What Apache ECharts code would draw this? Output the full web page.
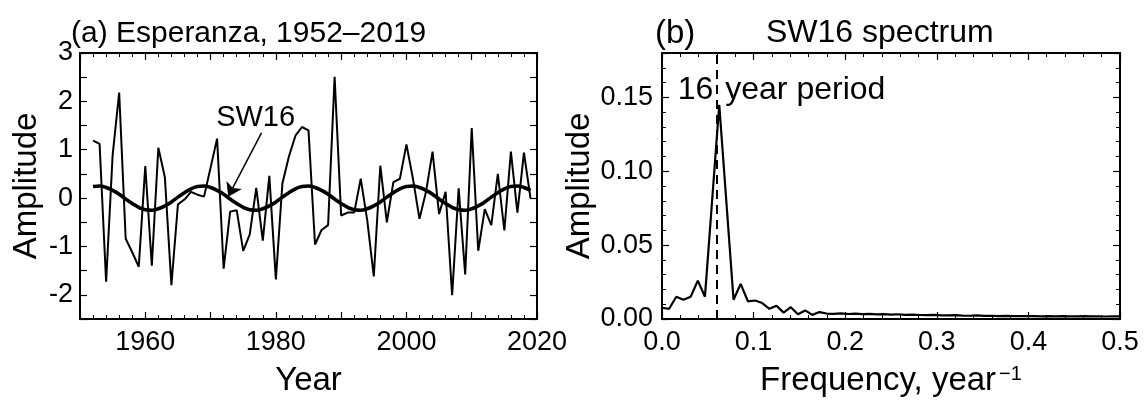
<!DOCTYPE html>
<html>
<head>
<meta charset="utf-8">
<script src="https://cdn.jsdelivr.net/npm/echarts@6/dist/echarts.min.js"></script>
<style>
html,body{margin:0;padding:0;background:#fff;}
#c{width:1146px;height:402px;}
</style>
</head>
<body>
<div id="c"></div>
<script>
// ---------- DATA ----------
const years = [1952,1953,1954,1955,1956,1957,1958,1959,1960,1961,1962,1963,1964,1965,1966,1967,1968,1969,1970,1971,1972,1973,1974,1975,1976,1977,1978,1979,1980,1981,1982,1983,1984,1985,1986,1987,1988,1989,1990,1991,1992,1993,1994,1995,1996,1997,1998,1999,2000,2001,2002,2003,2004,2005,2006,2007,2008,2009,2010,2011,2012,2013,2014,2015,2016,2017,2018,2019];
const anomaly = [1.19,1.12,-1.73,0.89,2.18,-0.84,-1.12,-1.42,0.66,-1.40,1.04,0.43,-1.80,-0.13,-0.03,0.13,0.07,0.03,0.63,1.23,-1.46,-0.28,-0.25,-1.09,-0.75,0.21,-0.88,0.46,-1.68,0.30,0.86,1.29,1.47,1.40,-0.96,-0.66,-0.56,2.51,-0.36,-0.30,-0.30,0.40,-0.46,-1.62,0.67,-0.50,0.33,0.40,1.11,0.40,-0.43,0.13,0.96,-0.33,0.13,-2.01,0.20,-1.58,1.45,-1.09,-0.23,-0.56,0.50,-0.67,0.96,-0.30,0.94,0.00];
const sw16 = [0.24,0.25,0.22,0.16,0.08,-0.02,-0.11,-0.19,-0.24,-0.25,-0.22,-0.16,-0.08,0.02,0.11,0.19,
              0.24,0.25,0.22,0.16,0.08,-0.02,-0.11,-0.19,-0.24,-0.25,-0.22,-0.16,-0.08,0.02,0.11,0.19,
              0.24,0.25,0.22,0.16,0.08,-0.02,-0.11,-0.19,-0.24,-0.25,-0.22,-0.16,-0.08,0.02,0.11,0.19,
              0.24,0.25,0.22,0.16,0.08,-0.02,-0.11,-0.19,-0.24,-0.25,-0.22,-0.16,-0.08,0.02,0.11,0.19,
              0.24,0.25,0.22,0.16];
const freqs = [0,0.0078,0.0156,0.0234,0.0313,0.0391,0.0469,0.0547,0.0625,0.0703,0.0781,0.0859,0.0938,0.1016,0.1094,0.1172,0.125,0.1328,0.1406,0.1484,0.1563,0.1641,0.1719,0.1797,0.1875,0.1953,0.2031,0.2109,0.2188,0.2266,0.2344,0.2422,0.25,0.2578,0.2656,0.2734,0.2813,0.2891,0.2969,0.3047,0.3125,0.3203,0.3281,0.3359,0.3438,0.3516,0.3594,0.3672,0.375,0.3828,0.3906,0.3984,0.4063,0.4141,0.4219,0.4297,0.4375,0.4453,0.4531,0.4609,0.4688,0.4766,0.4844,0.4922,0.5];
const spectrum = [0.0076,0.0069,0.0151,0.0130,0.0151,0.0260,0.0151,0.0800,0.1450,0.0790,0.0130,0.0238,0.0119,0.0125,0.0108,0.0069,0.0090,0.0043,0.0080,0.0032,0.0058,0.0028,0.0047,0.0037,0.0035,0.0038,0.0034,0.0036,0.0033,0.0035,0.0031,0.0033,0.0030,0.0032,0.0028,0.0030,0.0027,0.0026,0.0028,0.0025,0.0024,0.0026,0.0023,0.0022,0.0024,0.0021,0.0022,0.0020,0.0021,0.0019,0.0020,0.0019,0.0020,0.0018,0.0019,0.0018,0.0019,0.0018,0.0018,0.0019,0.0018,0.0018,0.0017,0.0018,0.0018];
const periodFreq = 0.0625;
const titleA = '(a) Esperanza, 1952\u20132019';
const titleB1 = '(b)';
const titleB2 = 'SW16 spectrum';
const sw16Label = 'SW16';
const sw16LabelAt = [1976.9, 1.65];
const sw16ArrowFrom = [1977.8, 1.35];
const sw16ArrowTo = [1972.7, 0.03];
const periodLabelAt = [0.0625, 0.155];

// ---------- CHART ----------
const FONT = '"Liberation Sans", Arial, Helvetica, sans-serif';
const chart = echarts.init(document.getElementById('c'));
const black = '#000';

function axisCommon(extra){
  return Object.assign({
    type:'value',
    axisLine:{show:true, onZero:false, lineStyle:{color:black, width:2}},
    splitLine:{show:false},
    axisTick:{show:true, inside:true, length:7, lineStyle:{color:black, width:1.2}},
    axisLabel:{color:black, fontSize:27, fontFamily:FONT},
    nameTextStyle:{color:black, fontSize:33, fontFamily:FONT}
  }, extra);
}
const minorT = {show:true, splitNumber:5, length:4, lineStyle:{color:black, width:1}};

const option = {
  animation:false,
  backgroundColor:'#fff',
  textStyle:{fontFamily:FONT},
  title:[
    {text:titleA, left:66, top:14, textStyle:{fontSize:30, fontWeight:'normal', color:black, fontFamily:FONT}},
    {text:titleB1, left:650, top:12, textStyle:{fontSize:33, fontWeight:'normal', color:black, fontFamily:FONT}},
    {text:titleB2, left:761, top:12, textStyle:{fontSize:32, fontWeight:'normal', color:black, fontFamily:FONT}}
  ],
  grid:[
    {left:80, right:609, top:53, bottom:72, containLabel:false},
    {left:662, right:26, top:53, bottom:72, containLabel:false}
  ],
  xAxis:[
    axisCommon({gridIndex:0, position:'bottom', min:1950, max:2020, interval:10, minorTick:minorT,
      axisLabel:{color:black, fontSize:27, fontFamily:FONT, margin:10, showMinLabel:true, showMaxLabel:true,
        formatter:v => (v % 20 === 0 ? String(v) : '')},
      name:'Year', nameLocation:'middle', nameGap:45}),
    axisCommon({gridIndex:0, position:'top', min:1950, max:2020, interval:10, minorTick:minorT,
      axisLabel:{show:false}}),
    axisCommon({gridIndex:1, position:'bottom', min:0, max:0.5, interval:0.1, minorTick:minorT,
      axisLabel:{color:black, fontSize:27, fontFamily:FONT, margin:10, formatter:v => v.toFixed(1)},
      name:'{m|Frequency, year}{s|\u22121}', nameLocation:'middle', nameGap:45,
      nameTextStyle:{color:black, fontFamily:FONT, rich:{
        m:{fontSize:33, color:black, fontFamily:FONT},
        s:{fontSize:20, color:black, fontFamily:FONT, verticalAlign:'top', padding:[0,0,0,3]}
      }}}),
    axisCommon({gridIndex:1, position:'top', min:0, max:0.5, interval:0.1, minorTick:minorT,
      axisLabel:{show:false}})
  ],
  yAxis:[
    axisCommon({gridIndex:0, position:'left', min:-2.5, max:3, interval:0.5,
      axisLabel:{color:black, fontSize:27, fontFamily:FONT, margin:7,
        formatter:v => (Math.abs(v - Math.round(v)) < 1e-9 ? String(Math.round(v)) : '')},
      name:'Amplitude', nameLocation:'middle', nameGap:37}),
    axisCommon({gridIndex:0, position:'right', min:-2.5, max:3, interval:0.5, axisLabel:{show:false}}),
    axisCommon({gridIndex:1, position:'left', min:0, max:0.18, interval:0.05, minorTick:minorT,
      axisLabel:{color:black, fontSize:27, fontFamily:FONT, margin:9, showMaxLabel:false,
        formatter:v => (v > 0.17 ? '' : v.toFixed(2))},
      name:'Amplitude', nameLocation:'middle', nameGap:64}),
    axisCommon({gridIndex:1, position:'right', min:0, max:0.18, interval:0.05, minorTick:minorT,
      axisLabel:{show:false}})
  ],
  series:[
    {
      type:'line', xAxisIndex:0, yAxisIndex:0, symbol:'none', silent:true,
      data: years.map((y,i) => [y, anomaly[i]]),
      lineStyle:{color:black, width:2}
    },
    {
      type:'line', xAxisIndex:0, yAxisIndex:0, symbol:'none', smooth:true, silent:true,
      data: years.map((y,i) => [y, sw16[i]]),
      lineStyle:{color:black, width:3.6},
      markPoint:{
        silent:true, symbol:'circle', symbolSize:0,
        label:{show:true, position:'inside', color:black, fontSize:29, fontFamily:FONT, formatter:sw16Label},
        data:[{coord:sw16LabelAt}]
      },
      markLine:{
        silent:true, symbol:['none','arrow'], symbolSize:13,
        label:{show:false},
        lineStyle:{color:black, width:1.5, type:'solid'},
        data:[[{coord:sw16ArrowFrom},{coord:sw16ArrowTo}]]
      }
    },
    {
      type:'line', xAxisIndex:2, yAxisIndex:2, symbol:'none', silent:true,
      data: freqs.map((f,i) => [f, spectrum[i]]),
      lineStyle:{color:black, width:2.2},
      markLine:{
        silent:true, symbol:['none','none'], label:{show:false},
        lineStyle:{color:black, width:2, type:[9,6]},
        data:[{xAxis:periodFreq}]
      },
      markPoint:{
        silent:true, symbol:'circle', symbolSize:0,
        data:[
          {coord:periodLabelAt, label:{show:true, position:'left', distance:6, color:black, fontSize:32, fontFamily:FONT, formatter:'16'}},
          {coord:periodLabelAt, label:{show:true, position:'right', distance:6, color:black, fontSize:32, fontFamily:FONT, formatter:'year period'}}
        ]
      }
    }
  ]
};
chart.setOption(option);
</script>
</body>
</html>
